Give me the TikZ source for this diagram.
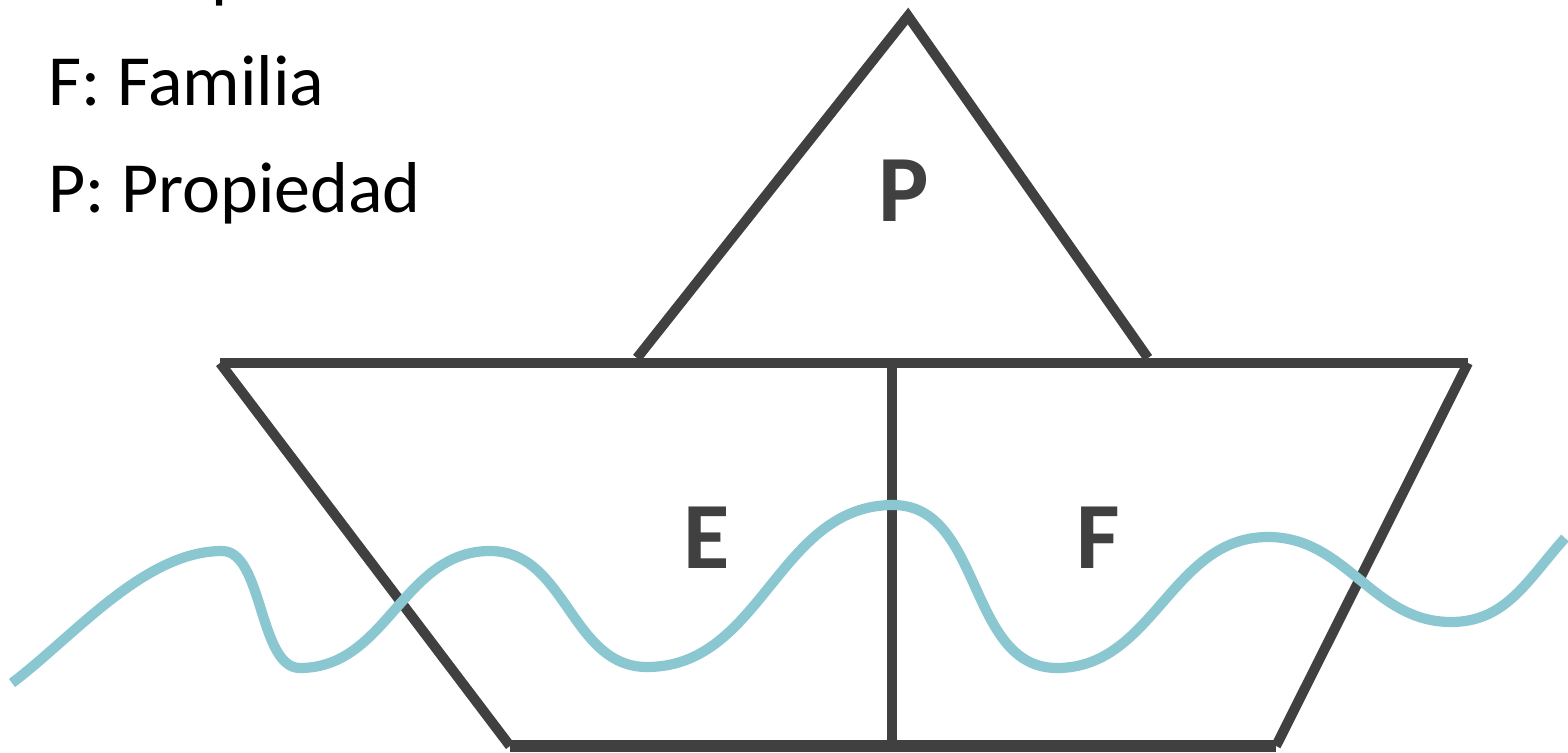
\documentclass[tikz,border=0pt]{standalone}
\usepackage{fontspec}
\setmainfont{Carlito}
\definecolor{hull}{RGB}{64,64,64}
\definecolor{sea}{RGB}{139,199,208}
\begin{document}
\begin{tikzpicture}[x=0.02cm, y=0.02cm,
    boat/.style={draw=hull, line width=5.7pt, line join=miter},
    wave/.style={draw=sea, line width=5.8pt},
    legend/.style={anchor=base west, inner sep=0pt, font=\fontsize{41}{49}\selectfont},
    part/.style={anchor=base, inner sep=0pt, text=hull, font=\fontsize{54}{60}\selectfont\bfseries}]
    \useasboundingbox (0,0) rectangle (1568,-753);
    \clip (0,0) rectangle (1568,-753);

    % Leyenda
    \node[legend] (lemp) at (48,5) {E: Empresa};
    \node[legend] (lfam) at (48,-106) {F: Familia};
    \node[legend] (lprop) at (48,-213) {P: Propiedad};

    % Barco
    \coordinate (tl) at (220,-363);
    \coordinate (tr) at (1468,-363);
    \coordinate (br) at (1276,-746);
    \coordinate (bl) at (510,-746);
    \draw[boat] (tl) -- (tr);
    \draw[boat] (tl) -- (bl);
    \draw[boat, line width=6.5pt] (bl) -- (br);
    \draw[boat] (br) -- (tr);
    \coordinate (mtop) at (892,-363);
    \coordinate (mbot) at (892,-746);
    \draw[boat] (mtop) -- (mbot);

    % Vela
    \coordinate (sl) at (637,-358);
    \coordinate (sa) at (908,-16);
    \coordinate (sr) at (1148,-358);
    \draw[boat] (sl) -- (sa) -- (sr);

    \node[part] (p) at (904,-222) {P};
    \node[part] (e) at (707,-568) {E};
    \node[part] (f) at (1098,-568) {F};

    % Ola
    \draw[wave] (12,-683) to[out=37,in=180,looseness=0.8] (222,-551)
        to[out=0,in=180,looseness=0.75] (300,-668)
        to[out=0,in=180] (490,-551)
        to[out=0,in=180] (647,-667)
        to[out=0,in=180] (893,-505)
        to[out=0,in=180] (1057,-668)
        to[out=0,in=180] (1268,-537)
        to[out=0,in=180] (1451,-622)
        to[out=0,in=228] (1565,-538);
\end{tikzpicture}
\end{document}
